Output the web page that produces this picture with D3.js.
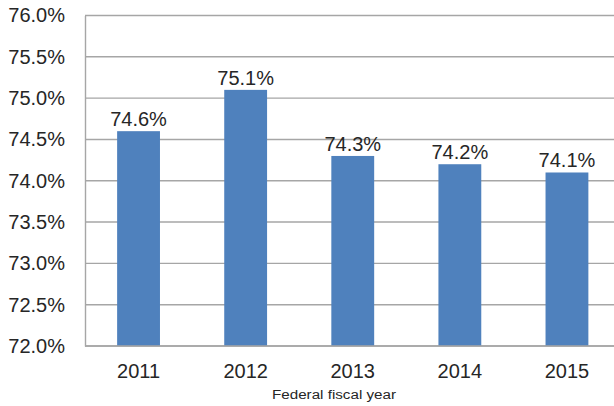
<!DOCTYPE html>
<html><head><meta charset="utf-8">
<script src="https://cdn.jsdelivr.net/npm/d3@7"></script>
<style>body{margin:0;background:#fff}svg{display:block}</style>
</head><body>
<svg id="c" width="614" height="406"></svg>
<script>
const years = ["2011","2012","2013","2014","2015"];
const rates = [74.6, 75.1, 74.3, 74.2, 74.1];
const yTicks = [72.0, 72.5, 73.0, 73.5, 74.0, 74.5, 75.0, 75.5, 76.0];
const xTitle = "Federal fiscal year";

(function () {
const svg = d3.select("#c");
const mL = 85, mR = 620.5, mT = 15.5, mB = 346;
const font = "'Liberation Sans', Arial, sans-serif";
const txt = "#262626", grid = "#A6A6A6", bar = "#4F81BD";

const x = d3.scaleBand().domain(years).range([mL, mR]).paddingInner(0.6).paddingOuter(0.3);
const y = d3.scaleLinear().domain([72, 76]).range([mB, mT]);

// gridlines
svg.append("g").selectAll("line").data(yTicks).join("line")
  .attr("x1", mL).attr("x2", 614)
  .attr("y1", d => y(d)).attr("y2", d => y(d))
  .attr("stroke", grid).attr("stroke-width", 1.4);

// y axis
const yAxis = d3.axisLeft(y).tickValues(yTicks).tickSize(0).tickPadding(20)
  .tickFormat(d => d.toFixed(1) + "%");
const ya = svg.append("g").attr("transform", `translate(${mL},0)`).call(yAxis);
ya.select(".domain").attr("stroke", grid).attr("stroke-width", 1.4);
ya.selectAll("text").attr("font-family", font).attr("font-size", 20).attr("fill", txt);

// bars
svg.append("g").selectAll("rect").data(rates).join("rect")
  .attr("x", (d, i) => x(years[i]))
  .attr("width", x.bandwidth())
  .attr("y", d => y(d))
  .attr("height", d => y(72) - y(d))
  .attr("fill", bar);

// value labels
svg.append("g").selectAll("text").data(rates).join("text")
  .attr("x", (d, i) => x(years[i]) + x.bandwidth() / 2)
  .attr("y", d => y(d) - 5)
  .attr("text-anchor", "middle")
  .attr("font-family", font).attr("font-size", 20).attr("fill", txt)
  .text(d => d.toFixed(1) + "%");

// x axis
const xAxis = d3.axisBottom(x).tickSize(0).tickPadding(17.5);
const xa = svg.append("g").attr("transform", `translate(0,${mB})`).call(xAxis);
xa.select(".domain").remove();
xa.selectAll("text").attr("font-family", font).attr("font-size", 20).attr("fill", txt);
svg.append("line").attr("x1", mL).attr("x2", 614).attr("y1", mB).attr("y2", mB)
  .attr("stroke", grid).attr("stroke-width", 1.4);

svg.append("text").attr("x", 334).attr("y", 399).attr("text-anchor", "middle")
  .attr("font-family", font).attr("font-size", 12.5).attr("fill", txt)
  .attr("textLength", 124).attr("lengthAdjust", "spacingAndGlyphs").text(xTitle);
})();
</script>
</body></html>
